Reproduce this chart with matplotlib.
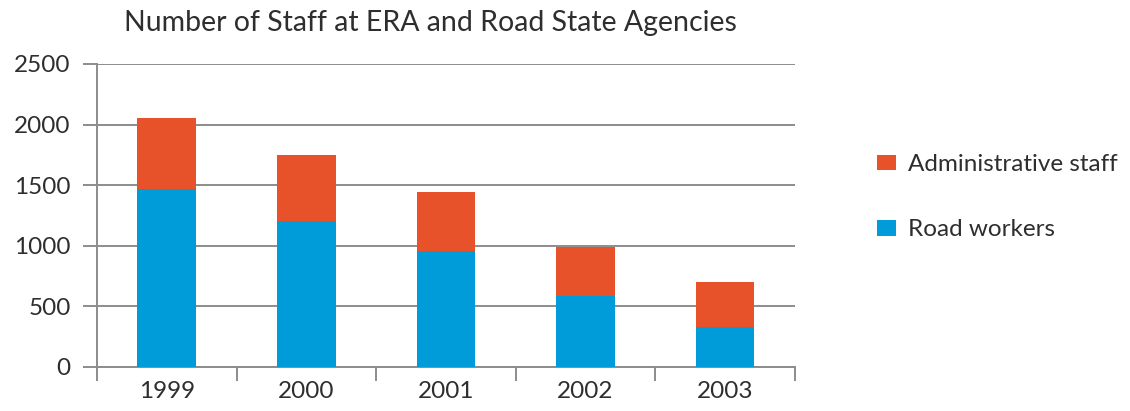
import matplotlib
matplotlib.use("Agg")
import matplotlib.pyplot as plt
import numpy as np
from matplotlib.patches import Patch

years = ["1999", "2000", "2001", "2002", "2003"]
road_workers = [1470, 1205, 955, 585, 330]
admin_staff = [585, 545, 490, 400, 370]
yticks = [0, 500, 1000, 1500, 2000, 2500]

plt.rcParams['font.family'] = ['Lato', 'DejaVu Sans']
text_color = '#2e2e2e'
grid_color = '#8c8c8c'
blue = '#009BD9'
orange = '#E8522B'

fig = plt.figure(figsize=(11.30, 4.11), dpi=100)
ax = fig.add_axes([0.0858, 0.1078, 0.6177, 0.7365])

x = np.arange(len(years))
ax.bar(x, road_workers, width=0.42, color=blue, zorder=3)
ax.bar(x, admin_staff, width=0.42, bottom=road_workers, color=orange, zorder=3)

ax.set_xlim(-0.5, len(years) - 0.5)
ax.set_ylim(0, 2500)
ax.set_yticks(yticks)
ax.set_yticklabels([str(v) for v in yticks])
ax.yaxis.grid(True, color=grid_color, linewidth=1.4, zorder=0)
ax.set_axisbelow(True)

ax.set_xticks(x)
ax.set_xticklabels(years)
ax.set_xticks(np.arange(-0.5, len(years)), minor=True)
ax.tick_params(axis='x', which='major', length=0, pad=10, labelsize=17.5, labelcolor=text_color)
ax.tick_params(axis='x', which='minor', length=10, width=1.4, color=grid_color, direction='out')
ax.tick_params(axis='y', length=10, width=1.4, color=grid_color, pad=9, labelsize=17.5, labelcolor=text_color)

for s in ['top', 'right']:
    ax.spines[s].set_visible(False)
for s in ['left', 'bottom']:
    ax.spines[s].set_color(grid_color)
    ax.spines[s].set_linewidth(1.4)

fig.text(0.381, 0.943, "Number of Staff at ERA and Road State Agencies",
         ha='center', va='center', fontsize=20.5, color=text_color)

handles = [Patch(facecolor=orange, edgecolor='none'), Patch(facecolor=blue, edgecolor='none')]
fig.legend(handles, ["Administrative staff", "Road workers"],
           loc='upper left', bbox_to_anchor=(0.776, 0.625), frameon=False,
           fontsize=17.5, labelcolor=text_color, handlelength=0.78, handleheight=0.62,
           handletextpad=0.5, labelspacing=1.82, borderaxespad=0, borderpad=0)

fig.savefig("out.png", dpi=100)
